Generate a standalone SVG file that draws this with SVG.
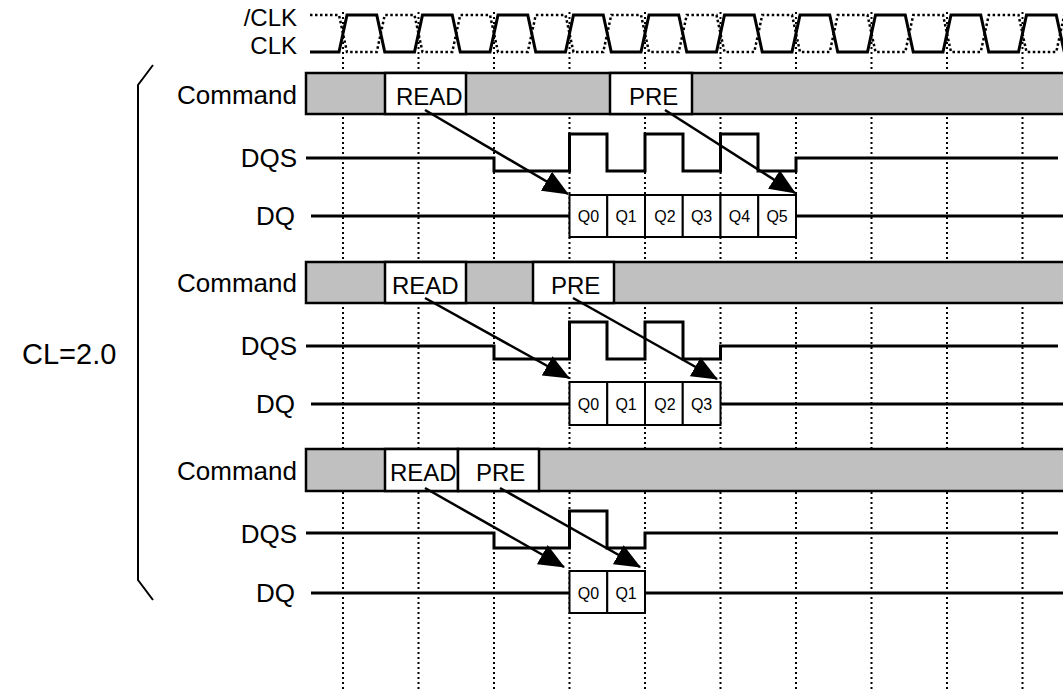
<svg xmlns="http://www.w3.org/2000/svg" width="1063" height="689" viewBox="0 0 1063 689">
<defs>
<style>
.lbl{font-family:"Liberation Sans",Arial,sans-serif;font-size:26px;fill:#000;text-anchor:end}
.clk{font-family:"Liberation Sans",Arial,sans-serif;font-size:24px;fill:#000;text-anchor:end}
.cmd{font-family:"Liberation Sans",Arial,sans-serif;font-size:24px;fill:#000}
.q{font-family:"Liberation Sans",Arial,sans-serif;font-size:16px;fill:#000;text-anchor:middle}
.grid{stroke:#000;stroke-width:2;stroke-dasharray:2 3;fill:none}
.sig{stroke:#000;stroke-width:3;fill:none}
.nclk{stroke:#000;stroke-width:2.5;stroke-dasharray:2.5 2.5;fill:none}
.bar{fill:#c0c0c0;stroke:#000;stroke-width:2.5}
.cell{fill:#fff;stroke:#000;stroke-width:2.5}
.qbox{fill:#fff;stroke:#000;stroke-width:2}
.arr{stroke:#000;stroke-width:2.5;fill:none;marker-end:url(#ah)}
</style>
<marker id="ah" markerUnits="userSpaceOnUse" markerWidth="26" markerHeight="22" refX="25" refY="11" orient="auto">
<path d="M0,0 L26,11 L0,22 z" fill="#000"/>
</marker>
</defs>
<rect width="1063" height="689" fill="#fff"/>
<g id="grid">
<line class="grid" x1="343" y1="12" x2="343" y2="689"/>
<line class="grid" x1="418.5" y1="12" x2="418.5" y2="689"/>
<line class="grid" x1="494" y1="12" x2="494" y2="689"/>
<line class="grid" x1="569.5" y1="12" x2="569.5" y2="689"/>
<line class="grid" x1="645" y1="12" x2="645" y2="689"/>
<line class="grid" x1="720.5" y1="12" x2="720.5" y2="689"/>
<line class="grid" x1="796" y1="12" x2="796" y2="689"/>
<line class="grid" x1="871.5" y1="12" x2="871.5" y2="689"/>
<line class="grid" x1="947" y1="12" x2="947" y2="689"/>
<line class="grid" x1="1022.5" y1="12" x2="1022.5" y2="689"/>
</g>
<g id="clock">
<text class="clk" x="297" y="26">/CLK</text>
<text class="clk" x="297" y="54">CLK</text>
<path class="nclk" d="M310,15 L339,15 L347,52 L376.75,52 L384.75,15 L414.5,15 L422.5,52 L452.25,52 L460.25,15 L490,15 L498,52 L527.75,52 L535.75,15 L565.5,15 L573.5,52 L603.25,52 L611.25,15 L641,15 L649,52 L678.75,52 L686.75,15 L716.5,15 L724.5,52 L754.25,52 L762.25,15 L792,15 L800,52 L829.75,52 L837.75,15 L867.5,15 L875.5,52 L905.25,52 L913.25,15 L943,15 L951,52 L980.75,52 L988.75,15 L1018.5,15 L1026.5,52 L1056.25,52 L1064.25,15"/>
<path class="sig" d="M310,52 L339,52 L347,15 L376.75,15 L384.75,52 L414.5,52 L422.5,15 L452.25,15 L460.25,52 L490,52 L498,15 L527.75,15 L535.75,52 L565.5,52 L573.5,15 L603.25,15 L611.25,52 L641,52 L649,15 L678.75,15 L686.75,52 L716.5,52 L724.5,15 L754.25,15 L762.25,52 L792,52 L800,15 L829.75,15 L837.75,52 L867.5,52 L875.5,15 L905.25,15 L913.25,52 L943,52 L951,15 L980.75,15 L988.75,52 L1018.5,52 L1026.5,15 L1056.25,15 L1064.25,52"/>
</g>
<g id="cl-bracket">
<path d="M153,65 L138,85 L138,580 L153,600" stroke="#000" stroke-width="2" fill="none"/>
<text x="22" y="364" font-family="Liberation Sans, Arial, sans-serif" font-size="29" fill="#000">CL=2.0</text>
</g>
<g id="case1">
<text class="lbl" x="297" y="104">Command</text>
<rect class="bar" x="306" y="73" width="800" height="41"/>
<rect class="cell" x="385" y="73" width="81" height="41"/>
<text class="cmd" x="396" y="105">READ</text>
<rect class="cell" x="610" y="73" width="82" height="41"/>
<text class="cmd" x="629" y="105">PRE</text>
<text class="lbl" x="297" y="167">DQS</text>
<path class="sig" d="M306,158 L494,158 L494,171 L569.5,171 L569.5,134 L607,134 L607,171 L645,171 L645,134 L683,134 L683,171 L720.5,171 L720.5,134 L758,134 L758,171 L796,171 L796,158 L1058,158"/>
<text class="lbl" x="295" y="225">DQ</text>
<path class="sig" d="M311,216 L569.5,216 M796,216 L1063,216"/>
<rect class="qbox" x="569.5" y="195" width="37.75" height="42"/>
<rect class="qbox" x="607.25" y="195" width="37.75" height="42"/>
<rect class="qbox" x="645" y="195" width="37.75" height="42"/>
<rect class="qbox" x="682.75" y="195" width="37.75" height="42"/>
<rect class="qbox" x="720.5" y="195" width="37.75" height="42"/>
<rect class="qbox" x="758.25" y="195" width="37.75" height="42"/>
<text class="q" x="588.4" y="222">Q0</text>
<text class="q" x="626.1" y="222">Q1</text>
<text class="q" x="665" y="222">Q2</text>
<text class="q" x="701.6" y="222">Q3</text>
<text class="q" x="739.4" y="222">Q4</text>
<text class="q" x="777.1" y="222">Q5</text>
</g>
<g id="case2">
<text class="lbl" x="297" y="292">Command</text>
<rect class="bar" x="306" y="262" width="800" height="41"/>
<rect class="cell" x="385" y="262" width="81" height="41"/>
<text class="cmd" x="392" y="294">READ</text>
<rect class="cell" x="533" y="262" width="81" height="41"/>
<text class="cmd" x="551" y="294">PRE</text>
<text class="lbl" x="297" y="355">DQS</text>
<path class="sig" d="M306,346 L494,346 L494,359 L569.5,359 L569.5,322 L607,322 L607,359 L645,359 L645,322 L683,322 L683,359 L720.5,359 L720.5,346 L1058,346"/>
<text class="lbl" x="295" y="413">DQ</text>
<path class="sig" d="M311,404 L569.5,404 M720.5,404 L1063,404"/>
<rect class="qbox" x="569.5" y="382" width="37.75" height="43"/>
<rect class="qbox" x="607.25" y="382" width="37.75" height="43"/>
<rect class="qbox" x="645" y="382" width="37.75" height="43"/>
<rect class="qbox" x="682.75" y="382" width="37.75" height="43"/>
<text class="q" x="588.4" y="410">Q0</text>
<text class="q" x="626.1" y="410">Q1</text>
<text class="q" x="665" y="410">Q2</text>
<text class="q" x="701.6" y="410">Q3</text>
</g>
<g id="case3">
<text class="lbl" x="297" y="480">Command</text>
<rect class="bar" x="306" y="449" width="800" height="42"/>
<rect class="cell" x="385" y="449" width="73" height="42"/>
<text class="cmd" x="390" y="481">READ</text>
<rect class="cell" x="458" y="449" width="81" height="42"/>
<text class="cmd" x="476" y="481">PRE</text>
<text class="lbl" x="297" y="543">DQS</text>
<path class="sig" d="M306,533 L494,533 L494,548 L569.5,548 L569.5,511 L607,511 L607,548 L645,548 L645,533 L1058,533"/>
<text class="lbl" x="295" y="602">DQ</text>
<path class="sig" d="M311,593 L569.5,593 M645,593 L1063,593"/>
<rect class="qbox" x="569.5" y="571" width="37.75" height="42"/>
<rect class="qbox" x="607.25" y="571" width="37.75" height="42"/>
<text class="q" x="588.4" y="599">Q0</text>
<text class="q" x="626.1" y="599">Q1</text>
</g>
<g id="connectors">
<line class="arr" x1="425" y1="110" x2="568" y2="194"/>
<line class="arr" x1="665" y1="110" x2="795" y2="193"/>
<line class="arr" x1="425" y1="298" x2="569" y2="378"/>
<line class="arr" x1="573" y1="298" x2="717" y2="379"/>
<line class="arr" x1="425" y1="488" x2="564" y2="567"/>
<line class="arr" x1="500" y1="488" x2="640" y2="567"/>
</g>
</svg>
